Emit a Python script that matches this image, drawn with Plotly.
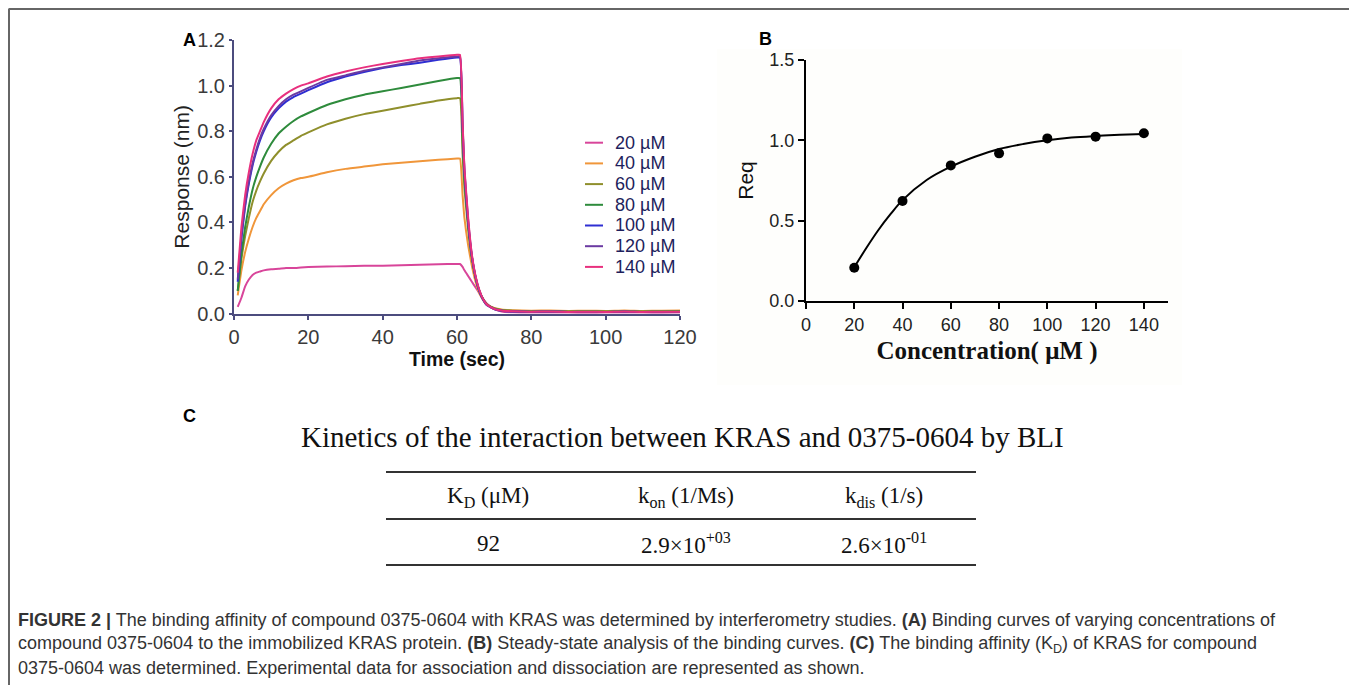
import plotly.graph_objects as go

# page body has an 8px margin, so the figure is offset by 8px
OFF = 8
W, H = 1357 - OFF, 685 - OFF

# ---------------- Panel A data ----------------
time_s = [1, 2, 3, 4, 5, 6, 7, 8, 10, 12, 14, 16, 18, 20, 25, 30, 35, 40, 45, 50, 55, 60,
          60.8, 61.5, 62, 63, 64, 65, 66, 67, 68, 70, 72, 75, 80, 85, 90, 95, 100, 105, 110, 115, 120]

resp_20 = [0.03, 0.07, 0.12, 0.15, 0.17, 0.18, 0.185, 0.19, 0.195, 0.197, 0.2, 0.2, 0.203, 0.205, 0.207, 0.208, 0.21, 0.21, 0.212, 0.215, 0.217, 0.218,
           0.218, 0.205, 0.19, 0.165, 0.14, 0.115, 0.09, 0.065, 0.045, 0.02, 0.01, 0.006, 0.005, 0.006, 0.005, 0.004, 0.005, 0.006, 0.005, 0.004, 0.005]
resp_40 = [0.08, 0.19, 0.27, 0.33, 0.38, 0.42, 0.45, 0.48, 0.52, 0.55, 0.57, 0.585, 0.595, 0.60, 0.62, 0.635, 0.645, 0.655, 0.662, 0.668, 0.675, 0.68,
           0.68, 0.52, 0.42, 0.30, 0.21, 0.14, 0.09, 0.06, 0.04, 0.025, 0.018, 0.015, 0.013, 0.014, 0.012, 0.013, 0.012, 0.014, 0.012, 0.013, 0.014]
resp_60 = [0.10, 0.24, 0.34, 0.42, 0.49, 0.54, 0.58, 0.615, 0.67, 0.71, 0.74, 0.76, 0.78, 0.795, 0.83, 0.855, 0.875, 0.89, 0.905, 0.92, 0.935, 0.945,
           0.945, 0.70, 0.55, 0.37, 0.24, 0.155, 0.10, 0.065, 0.042, 0.024, 0.016, 0.013, 0.011, 0.012, 0.010, 0.011, 0.010, 0.012, 0.010, 0.011, 0.012]
resp_80 = [0.10, 0.26, 0.38, 0.47, 0.545, 0.60, 0.645, 0.685, 0.745, 0.79, 0.82, 0.845, 0.865, 0.88, 0.915, 0.94, 0.96, 0.975, 0.99, 1.005, 1.02, 1.033,
           1.033, 0.76, 0.59, 0.39, 0.25, 0.16, 0.10, 0.064, 0.04, 0.022, 0.015, 0.012, 0.010, 0.011, 0.009, 0.010, 0.009, 0.011, 0.009, 0.010, 0.010]
resp_100 = [0.14, 0.33, 0.47, 0.57, 0.65, 0.71, 0.76, 0.80, 0.86, 0.90, 0.93, 0.95, 0.965, 0.98, 1.015, 1.04, 1.06, 1.077, 1.09, 1.10, 1.113, 1.123,
            1.123, 0.82, 0.62, 0.40, 0.25, 0.16, 0.10, 0.062, 0.038, 0.02, 0.013, 0.010, 0.008, 0.009, 0.007, 0.008, 0.007, 0.009, 0.007, 0.008, 0.008]
resp_120 = [0.15, 0.34, 0.48, 0.58, 0.66, 0.72, 0.77, 0.81, 0.87, 0.91, 0.94, 0.96, 0.975, 0.99, 1.025, 1.045, 1.065, 1.08, 1.095, 1.11, 1.12, 1.128,
            1.128, 0.83, 0.63, 0.41, 0.255, 0.16, 0.10, 0.062, 0.038, 0.02, 0.013, 0.010, 0.008, 0.009, 0.008, 0.008, 0.007, 0.009, 0.008, 0.008, 0.008]
resp_140 = [0.18, 0.38, 0.52, 0.62, 0.70, 0.76, 0.80, 0.84, 0.90, 0.94, 0.965, 0.985, 1.0, 1.01, 1.04, 1.062, 1.08, 1.095, 1.108, 1.12, 1.128, 1.135,
            1.135, 0.84, 0.64, 0.42, 0.26, 0.165, 0.105, 0.065, 0.04, 0.021, 0.014, 0.011, 0.009, 0.010, 0.008, 0.009, 0.008, 0.010, 0.008, 0.009, 0.009]

series_names = ["20 µM", "40 µM", "60 µM", "80 µM", "100 µM", "120 µM", "140 µM"]
series_vals = [resp_20, resp_40, resp_60, resp_80, resp_100, resp_120, resp_140]
series_colors = ["#d8459a", "#f0963a", "#8f8f2c", "#2e8b3c", "#2f2fd2", "#6b3aa2", "#e8307e"]

# ---------------- Panel B data ----------------
conc = [20, 40, 60, 80, 100, 120, 140]
req = [0.207, 0.622, 0.844, 0.919, 1.012, 1.023, 1.044]
fit_x = [20, 25, 30, 35, 40, 50, 60, 70, 80, 90, 100, 110, 120, 130, 140]
fit_y = [0.21, 0.33, 0.442, 0.54, 0.628, 0.753, 0.836, 0.898, 0.946, 0.977, 1.0, 1.017, 1.027, 1.034, 1.04]

# ---------------- Panel C table ----------------
table_headers = ["K<sub>D</sub> (μM)", "k<sub>on</sub> (1/Ms)", "k<sub>dis</sub> (1/s)"]
table_values = ["92", "2.9×10<sup>+03</sup>", "2.6×10<sup>-01</sup>"]
table_title = "Kinetics of the interaction between KRAS and 0375-0604 by BLI"

caption_lines = [
    "<b>FIGURE 2 |</b> The binding affinity of compound 0375-0604 with KRAS was determined by interferometry studies. <b>(A)</b> Binding curves of varying concentrations of",
    "compound 0375-0604 to the immobilized KRAS protein. <b>(B)</b> Steady-state analysis of the binding curves. <b>(C)</b> The binding affinity (K<sub>D</sub>) of KRAS for compound",
    "0375-0604 was determined. Experimental data for association and dissociation are represented as shown.",
]

SERIF = "Liberation Serif, Times New Roman, serif"
SANS = "Liberation Sans, Arial, sans-serif"


def px(x):
    return (x - OFF) / W


def py(y):
    return 1 - (y - OFF) / H


fig = go.Figure()

for name, vals, col in zip(series_names, series_vals, series_colors):
    fig.add_trace(go.Scatter(x=time_s, y=vals, mode="lines", name=name, showlegend=False,
                             line=dict(color=col, width=2, shape="spline", smoothing=0.4),
                             xaxis="x", yaxis="y"))

fig.add_trace(go.Scatter(x=fit_x, y=fit_y, mode="lines", showlegend=False,
                         line=dict(color="black", width=2, shape="spline"),
                         xaxis="x2", yaxis="y2"))
fig.add_trace(go.Scatter(x=conc, y=req, mode="markers", showlegend=False,
                         marker=dict(color="black", size=10),
                         xaxis="x2", yaxis="y2"))

axA_col = "#4c4c7e"
fig.update_layout(
    width=W, height=H,
    margin=dict(l=0, r=0, t=0, b=0),
    paper_bgcolor="white", plot_bgcolor="rgba(0,0,0,0)",
    font=dict(family=SANS, color="#333"),
    showlegend=False,
    xaxis=dict(domain=[px(234), px(680)], range=[0, 120], tickvals=[0, 20, 40, 60, 80, 100, 120],
               ticks="outside", ticklen=4, tickwidth=2, tickcolor=axA_col, showline=True,
               linecolor=axA_col, linewidth=2, showgrid=False, zeroline=False,
               tickfont=dict(size=20, color="#3a3a3a"), anchor="y", automargin=False,
               title=dict(text="<b>Time (sec)</b>", font=dict(size=19.5, color="#111"), standoff=4)),
    yaxis=dict(domain=[py(313.7), py(40)], range=[0, 1.2], tickvals=[0, 0.2, 0.4, 0.6, 0.8, 1.0, 1.2],
               tickformat=".1f", ticks="outside", ticklen=3, tickwidth=2, tickcolor=axA_col,
               showline=True, linecolor=axA_col, linewidth=2, showgrid=False, zeroline=False,
               tickfont=dict(size=20, color="#3a3a3a"), anchor="x", automargin=False,
               title=dict(text="Response (nm)", font=dict(size=21, color="#222"), standoff=2)),
    xaxis2=dict(domain=[px(806), px(1168)], range=[0, 150], tickvals=[0, 20, 40, 60, 80, 100, 120, 140],
                ticks="outside", ticklen=6, tickwidth=2, tickcolor="black", showline=True,
                linecolor="black", linewidth=2, showgrid=False, zeroline=False,
                tickfont=dict(size=18, color="#222"), anchor="y2", automargin=False,
                title=dict(text="<b>Concentration( μM )</b>",
                           font=dict(size=25, family=SERIF, color="#111"), standoff=8)),
    yaxis2=dict(domain=[py(301), py(60)], range=[0, 1.5], tickvals=[0, 0.5, 1.0, 1.5], tickformat=".1f",
                ticks="outside", ticklen=6, tickwidth=2, tickcolor="black", showline=True,
                linecolor="black", linewidth=2, showgrid=False, zeroline=False,
                tickfont=dict(size=18, color="#222"), anchor="x2", automargin=False,
                title=dict(text="Req", font=dict(size=21, color="#111"), standoff=10)),
)

shapes = [
    # panel B faint background
    dict(type="rect", xref="paper", yref="paper", x0=px(717), x1=px(1182), y0=py(49), y1=py(385),
         fillcolor="#fefefc", line=dict(width=0), layer="below"),
    # outer frame (top, left, right)
    dict(type="line", xref="paper", yref="paper", x0=px(8.5), x1=px(1355), y0=py(9), y1=py(9),
         line=dict(color="#666", width=2)),
    dict(type="line", xref="paper", yref="paper", x0=px(9), x1=px(9), y0=py(9), y1=py(685),
         line=dict(color="#666", width=2)),
    dict(type="line", xref="paper", yref="paper", x0=px(1355), x1=px(1355), y0=py(9), y1=py(685),
         line=dict(color="#666", width=2)),
]
for yl in (472, 519, 565):
    shapes.append(dict(type="line", xref="paper", yref="paper", x0=px(386), x1=px(976), y0=py(yl), y1=py(yl),
                       line=dict(color="#333", width=2)))

ann = []
# legend of panel A (entries built from the series names / colours)
for i, (name, col) in enumerate(zip(series_names, series_colors)):
    yy = 142.7 + 20.7 * i
    shapes.append(dict(type="line", xref="paper", yref="paper", x0=px(585), x1=px(603), y0=py(yy), y1=py(yy),
                       line=dict(color=col, width=2)))
    ann.append(dict(text=name, x=px(613), y=py(yy), xref="paper", yref="paper", xanchor="left", yanchor="middle",
                    showarrow=False, font=dict(size=18, color="#1e1e5c")))
fig.update_layout(shapes=shapes)

ann.append(dict(text="<b>A</b>", x=px(181), y=py(40), xref="paper", yref="paper", xanchor="left", yanchor="middle",
                showarrow=False, font=dict(size=18, color="black")))
ann.append(dict(text="<b>B</b>", x=px(757), y=py(39), xref="paper", yref="paper", xanchor="left", yanchor="middle",
                showarrow=False, font=dict(size=18, color="black")))
ann.append(dict(text="<b>C</b>", x=px(181), y=py(416), xref="paper", yref="paper", xanchor="left", yanchor="middle",
                showarrow=False, font=dict(size=18, color="black")))
ann.append(dict(text=table_title, x=px(682), y=py(437), xref="paper", yref="paper", xanchor="center", yanchor="middle",
                showarrow=False, font=dict(size=29, family=SERIF, color="#111")))
col_x = [488, 686, 884]
for cx, htxt, vtxt in zip(col_x, table_headers, table_values):
    ann.append(dict(text=htxt, x=px(cx), y=py(497), xref="paper", yref="paper", xanchor="center", yanchor="middle",
                    showarrow=False, font=dict(size=23, family=SERIF, color="#111")))
    ann.append(dict(text=vtxt, x=px(cx), y=py(543), xref="paper", yref="paper", xanchor="center", yanchor="middle",
                    showarrow=False, font=dict(size=23, family=SERIF, color="#111")))
for i, line in enumerate(caption_lines):
    ann.append(dict(text=line, x=px(16), y=py(620 + 24 * i), xref="paper", yref="paper", xanchor="left",
                    yanchor="middle", showarrow=False,
                    font=dict(size=18, family=SANS, color="#333")))
fig.update_layout(annotations=ann)

fig.write_html("out.html")
